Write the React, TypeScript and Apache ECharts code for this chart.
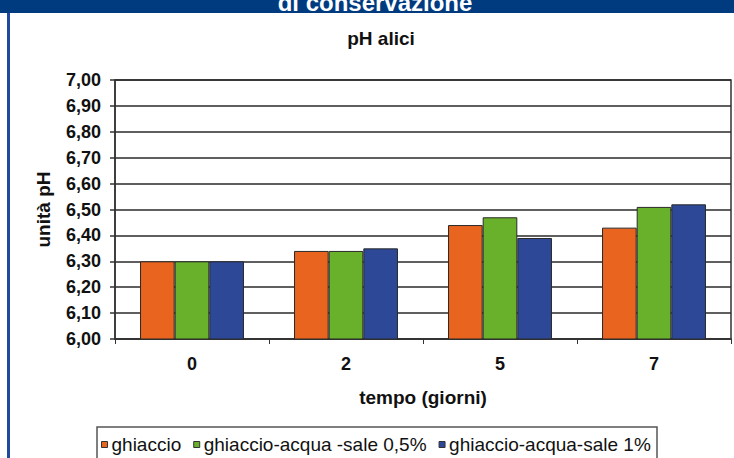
import React, { useEffect, useRef } from "react";
import * as echarts from "echarts";

const categories = ["0", "2", "5", "7"];
const seriesNames = ["ghiaccio", "ghiaccio-acqua -sale 0,5%", "ghiaccio-acqua-sale 1%"];
const ghiaccio = [6.3, 6.34, 6.44, 6.43];
const sale05 = [6.3, 6.34, 6.47, 6.51];
const sale1 = [6.3, 6.35, 6.39, 6.52];
const colors = ["#E8641F", "#69B02B", "#2C4896"];
const chartTitle = "pH alici";
const bannerText = "di conservazione";
const yName = "unità pH";
const xName = "tempo (giorni)";

export default function App() {
  const ref = useRef<HTMLDivElement>(null);
  useEffect(() => {
    if (!ref.current) return;
    const chart = echarts.init(ref.current, null, { renderer: "svg" });
    const font = "Liberation Sans, Arial, sans-serif";
    const data = [ghiaccio, sale05, sale1];
    chart.setOption({
      animation: false,
      backgroundColor: "#ffffff",
      textStyle: { fontFamily: font },
      grid: {
        left: 115,
        right: 3,
        top: 80,
        bottom: 119,
        show: true,
        borderColor: "#333",
        borderWidth: 1.5,
        backgroundColor: "transparent",
      },
      legend: {
        left: 101,
        top: 435,
        padding: 0,
        itemWidth: 6,
        itemHeight: 6,
        itemGap: 12,
        icon: "rect",
        textStyle: { fontFamily: font, fontSize: 19, color: "#111", padding: [0, 0, 0, -1] },
        data: seriesNames.map((n, i) => ({
          name: n,
          itemStyle: { color: colors[i], borderColor: "#333", borderWidth: 1 },
        })),
      },
      xAxis: {
        type: "category",
        data: categories,
        name: xName,
        nameLocation: "middle",
        nameGap: 49,
        nameTextStyle: { fontFamily: font, fontSize: 19, fontWeight: "bold", color: "#111" },
        axisLine: { lineStyle: { color: "#333", width: 1.5 } },
        axisTick: { show: true, length: 5, lineStyle: { color: "#333" } },
        axisLabel: { fontFamily: font, fontSize: 18, fontWeight: "bold", color: "#111", margin: 16 },
      },
      yAxis: {
        type: "value",
        min: 6,
        max: 7,
        interval: 0.1,
        name: yName,
        nameLocation: "middle",
        nameGap: 62,
        nameTextStyle: { fontFamily: font, fontSize: 19, fontWeight: "bold", color: "#111" },
        axisLine: { show: true, lineStyle: { color: "#333", width: 1.5 } },
        axisTick: { show: true, length: 5, lineStyle: { color: "#333", width: 1.5 } },
        splitLine: { show: true, lineStyle: { color: "#2a2a2a", width: 1.5 } },
        axisLabel: {
          fontFamily: font,
          fontSize: 18,
          fontWeight: "bold",
          color: "#111",
          margin: 14,
          formatter: (v: number) => v.toFixed(2).replace(".", ","),
        },
      },
      series: seriesNames.map((n, i) => ({
        name: n,
        type: "bar",
        data: data[i],
        barGap: "0%",
        barCategoryGap: "32.5%",
        itemStyle: { color: colors[i], borderColor: "#2a2a2a", borderWidth: 1 },
      })),
      graphic: [
        { type: "rect", shape: { x: 0, y: 0, width: 734, height: 13 }, style: { fill: "#003B80" }, z: 10 },
        {
          type: "text",
          x: 375,
          y: 2.5,
          style: {
            text: bannerText,
            fill: "#ffffff",
            font: "bold 24px Liberation Sans, Arial, sans-serif",
            align: "center",
            verticalAlign: "middle",
          },
          z: 11,
        },
        { type: "rect", shape: { x: 7, y: 13, width: 3, height: 445 }, style: { fill: "#1E4B9C" }, z: 10 },
        {
          type: "text",
          x: 381,
          y: 38,
          style: {
            text: chartTitle,
            fill: "#111",
            font: "bold 19px Liberation Sans, Arial, sans-serif",
            align: "center",
            verticalAlign: "middle",
          },
        },
        {
          type: "rect",
          shape: { x: 97, y: 427, width: 560, height: 50 },
          style: { fill: "none", stroke: "#555", lineWidth: 1.5 },
        },
      ],
    });
    return () => chart.dispose();
  }, []);
  return (
    <div
      ref={ref}
      style={{ position: "fixed", left: 0, top: 0, width: 734, height: 458 }}
    />
  );
}
